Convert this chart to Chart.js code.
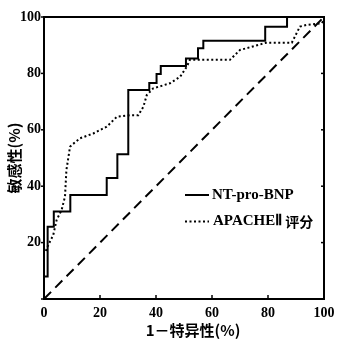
<!DOCTYPE html>
<html>
<head>
<meta charset="utf-8">
<script src="https://cdn.jsdelivr.net/npm/chart.js@4.4.1/dist/chart.umd.min.js"></script>
<style>
  html, body { margin: 0; padding: 0; background: #fff; }
  #wrap { width: 337px; height: 339px; }
</style>
</head>
<body>
<div id="wrap"><canvas id="grafico" width="337" height="339"></canvas></div>
<script>
// curva NT-pro-BNP (degraus)
var ntX = [0, 0, 1.3, 3.5, 9.4, 22.4, 26.2, 30.1, 37.6, 40.2, 41.7, 50.7, 55, 56.9, 79, 86.8, 100];
var ntY = [0, 8, 25.6, 31, 36.9, 42.9, 51.3, 74.1, 76.6, 79.8, 82.6, 85.3, 88.9, 91.6, 96.5, 100, 100];

// curva APACHE II (pontilhada)
var apX = [0.7, 1, 2.1, 3.3, 4.5, 6.3, 7.5, 8, 9.3, 9.9, 12.9, 17.6, 22.4, 26, 30.7, 33.7, 35.5, 36.7, 39, 45, 48.6, 51, 52.1, 66.4, 70, 79.5, 88.5, 91.4, 93.8, 99.2, 100];
var apY = [17, 18, 20.3, 22.7, 28, 31.6, 36.3, 45.7, 54, 54.6, 57, 58.7, 61.1, 64.6, 65.2, 65.2, 68.2, 72.3, 74.7, 76.5, 78.8, 82.4, 84.8, 84.8, 88.3, 90.9, 90.9, 96.6, 97.2, 97.8, 99];

// linha de referencia
var refX = [0, 100];
var refY = [0, 100];

var ticksX = [0, 20, 40, 60, 80, 100];
var ticksY = [0, 20, 40, 60, 80, 100];

var nomeSerieA = "NT-pro-BNP";
var nomeSerieB = "APACHEⅡ评分";
var tituloX = "1－特异性(%)";
var tituloY = "敏感性(%)";

function montarPontos(xs, ys) {
  var pontos = [];
  for (var i = 0; i < xs.length; i++) {
    pontos.push({ x: xs[i], y: ys[i] });
  }
  return pontos;
}

var fonteCJK = "bold 15px 'Noto Sans CJK SC', sans-serif";

var pluginMoldura = {
  id: "moldura",
  afterDraw: function (chart) {
    var ctx = chart.ctx;
    var a = chart.chartArea;
    var sx = chart.scales.x;
    var sy = chart.scales.y;
    ctx.save();
    ctx.strokeStyle = "#000";
    ctx.lineWidth = 2;
    ctx.strokeRect(a.left, a.top, a.right - a.left, a.bottom - a.top);

    // marcas dos ticks (x para dentro, y para fora)
    ctx.lineWidth = 1.5;
    for (var i = 0; i < ticksX.length; i++) {
      var px = sx.getPixelForValue(ticksX[i]);
      ctx.beginPath();
      ctx.moveTo(px, a.bottom);
      ctx.lineTo(px, a.bottom - 4);
      ctx.stroke();
    }
    for (var j = 0; j < ticksY.length; j++) {
      var py = sy.getPixelForValue(ticksY[j]);
      ctx.beginPath();
      ctx.moveTo(a.left, py);
      ctx.lineTo(a.left - 3, py);
      ctx.stroke();
      ctx.beginPath();
      ctx.moveTo(a.right, py);
      ctx.lineTo(a.right - 3, py);
      ctx.stroke();
    }

    // legenda
    ctx.lineWidth = 2;
    ctx.setLineDash([]);
    ctx.beginPath();
    ctx.moveTo(185, 195);
    ctx.lineTo(209, 195);
    ctx.stroke();
    ctx.setLineDash([2, 2.5]);
    ctx.beginPath();
    ctx.moveTo(185, 221.5);
    ctx.lineTo(209, 221.5);
    ctx.stroke();
    ctx.setLineDash([]);
    ctx.fillStyle = "#000";
    ctx.textBaseline = "middle";
    ctx.textAlign = "left";
    ctx.font = "bold 15px 'Liberation Serif', serif";
    ctx.fillText(nomeSerieA, 212, 195);
    ctx.fillText("APACHEⅡ", 213, 221.5);
    var larg = ctx.measureText("APACHEⅡ").width;
    ctx.font = "bold 14px 'Noto Sans CJK SC', sans-serif";
    ctx.fillText("评分", 213 + larg + 3, 221.5);

    // titulos dos eixos
    ctx.font = fonteCJK;
    ctx.textAlign = "center";
    ctx.fillText(tituloX, 193, 330);
    ctx.translate(14, 158);
    ctx.rotate(-Math.PI / 2);
    ctx.fillText(tituloY, 0, 0);
    ctx.restore();
  }
};

new Chart(document.getElementById("grafico").getContext("2d"), {
  type: "line",
  data: {
    datasets: [
      {
        label: nomeSerieA,
        data: montarPontos(ntX, ntY),
        borderColor: "#000",
        borderWidth: 2,
        stepped: "before",
        pointRadius: 0,
        fill: false
      },
      {
        label: nomeSerieB,
        data: montarPontos(apX, apY),
        borderColor: "#000",
        borderWidth: 2,
        borderDash: [2, 2.5],
        tension: 0,
        pointRadius: 0,
        fill: false
      },
      {
        label: "ref",
        data: montarPontos(refX, refY),
        borderColor: "#000",
        borderWidth: 2,
        borderDash: [10, 6],
        pointRadius: 0,
        fill: false
      }
    ]
  },
  options: {
    responsive: false,
    animation: false,
    layout: { padding: { left: 0, right: 13, top: 17, bottom: 0 } },
    plugins: {
      legend: { display: false },
      tooltip: { enabled: false }
    },
    scales: {
      x: {
        type: "linear",
        min: 0,
        max: 100,
        afterFit: function (s) {
          s.height = 40;
          s.paddingLeft = 0;
          s.paddingRight = 0;
        },
        afterBuildTicks: function (s) {
          s.ticks = ticksX.map(function (v) { return { value: v }; });
        },
        grid: { display: false, drawTicks: false, tickLength: 0 },
        border: { display: false },
        ticks: {
          color: "#000",
          font: { family: "'Liberation Serif', serif", size: 14, weight: "bold" },
          padding: 6,
          maxRotation: 0
        }
      },
      y: {
        type: "linear",
        min: 0,
        max: 100,
        afterFit: function (s) {
          s.width = 44;
          s.paddingTop = 0;
          s.paddingBottom = 0;
        },
        afterBuildTicks: function (s) {
          s.ticks = ticksY.map(function (v) { return { value: v }; });
        },
        grid: { display: false, drawTicks: false, tickLength: 0 },
        border: { display: false },
        ticks: {
          color: "#000",
          font: { family: "'Liberation Serif', serif", size: 14, weight: "bold" },
          padding: 3,
          callback: function (v) { return v == 0 ? "" : v; }
        }
      }
    }
  },
  plugins: [pluginMoldura]
});
</script>
</body>
</html>
